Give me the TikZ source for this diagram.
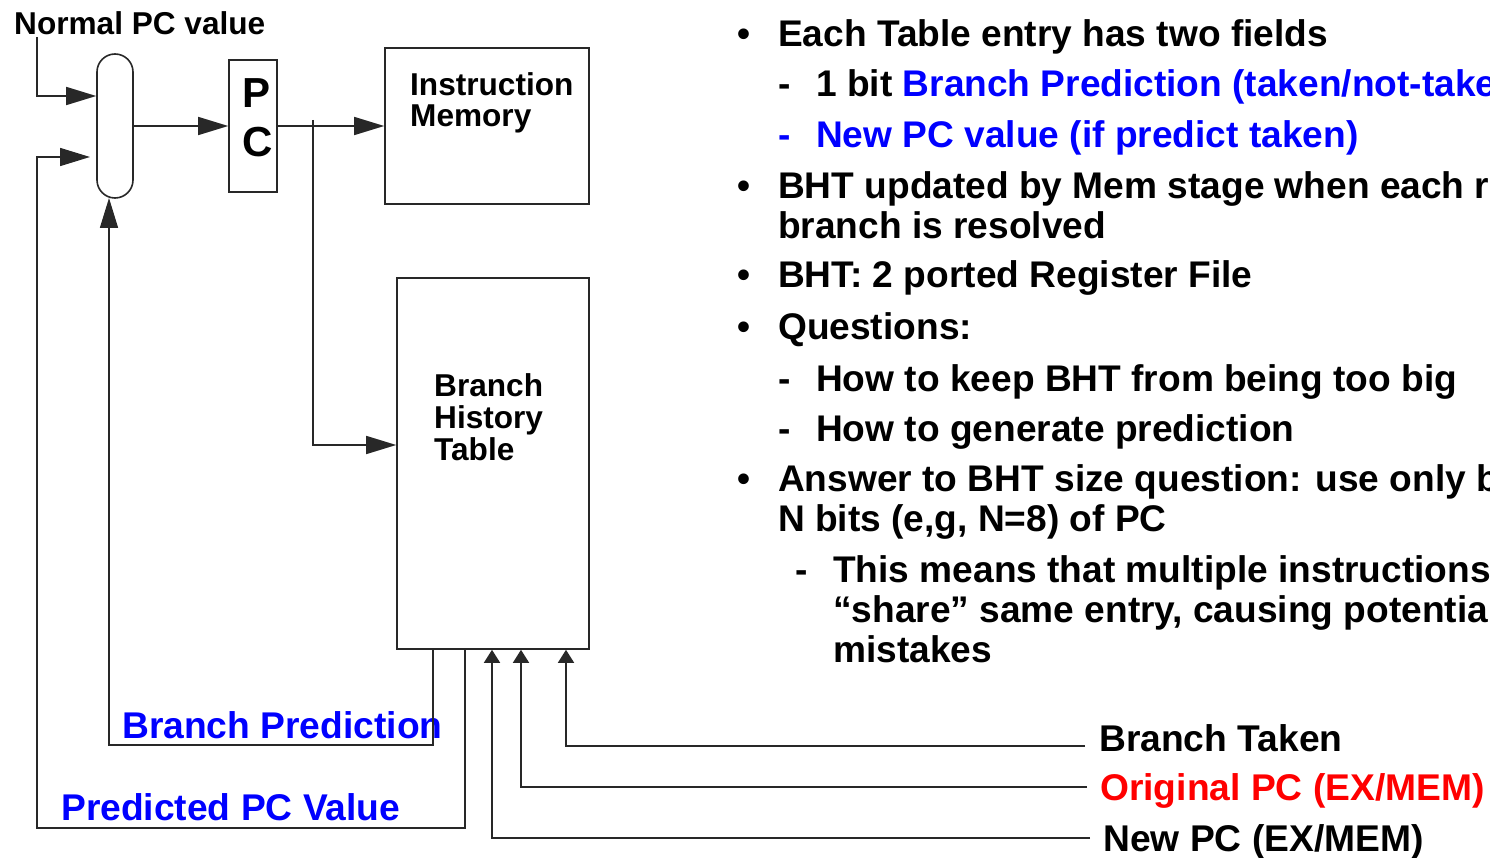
\documentclass[tikz,border=0pt]{standalone}
\usepackage{fontspec}
\setmainfont{Liberation Sans}
\usetikzlibrary{arrows.meta}
\definecolor{pblue}{RGB}{0,0,255}
\definecolor{pred}{RGB}{255,0,0}
\definecolor{lne}{RGB}{40,40,40}
\tikzset{
  wire/.style={draw=lne, line width=1.6pt},
  bigarrow/.style={wire, -{Triangle[length=30pt,width=18pt]}},
  smallarrow/.style={wire, -{Triangle[length=13pt,width=16pt]}},
  blockbox/.style={draw=lne, line width=1.6pt, inner sep=0pt},
  dtxt/.style={inner sep=0pt, anchor=base west, font=\fontsize{31.6}{32}\selectfont\bfseries},
  ltxt/.style={inner sep=0pt, anchor=base west, font=\fontsize{37.2}{40}\selectfont\bfseries},
  rtxt/.style={inner sep=0pt, anchor=base west, font=\fontsize{37.1}{40}\selectfont\bfseries},
}
\begin{document}
\begin{tikzpicture}[x=1pt,y=-1pt]
\useasboundingbox (0,0) rectangle (1490,858);
\clip (0,0) rectangle (1490,858);

% ---- blocks ----
\node[blockbox, rounded corners=18pt, minimum width=36pt, minimum height=144pt] (mux) at (115,126) {};
\node[blockbox, minimum width=48pt, minimum height=132pt] (pc) at (253,126) {};
\node[inner sep=0pt, anchor=base] (pcP) at (257,108) {\fontsize{42}{42}\selectfont\bfseries P};
\node[inner sep=0pt, anchor=base] (pcC) at (258,157) {\fontsize{42}{42}\selectfont\bfseries C};
\node[blockbox, minimum width=204pt, minimum height=156pt] (im) at (487,126) {};
\node[dtxt] (im1) at (410,96) {Instruction};
\node[dtxt] (im2) at (410,127) {Memory};
\node[blockbox, minimum width=192pt, minimum height=371pt] (bht) at (493,463.5) {};
\node[dtxt] (bh1) at (434,396) {Branch};
\node[dtxt] (bh2) at (434,428) {History};
\node[dtxt] (bh3) at (434,460) {Table};

% ---- labels left ----
\node[dtxt] (npc) at (14,35) {Normal PC value};
\node[ltxt, text=pblue] (bpl) at (122,738) {Branch Prediction};
\node[ltxt, text=pblue] (ppl) at (61,820) {Predicted PC Value};

% ---- labels bottom right ----
\node[ltxt] (btl) at (1099,751) {Branch Taken};
\node[ltxt, text=pred] (opl) at (1100,800) {Original PC (EX/MEM)};
\node[ltxt] (npl) at (1103,851) {New PC (EX/MEM)};

% ---- coordinates ----
\coordinate (npcEnd) at (37,37);
\coordinate (in2tip) at (90,157);
\coordinate (branchTop) at (313,120);
\coordinate (bpOut) at (433,649);
\coordinate (ppOut) at (465,649);
\coordinate (btEnd) at (1085,746);
\coordinate (opEnd) at (1087,787);
\coordinate (npEnd) at (1090,838);

% ---- connectors ----
\draw[bigarrow] (npcEnd) |- (mux.west |- 0,96);
\draw[bigarrow] (ppOut) -- (465,828) -- (37,828) -- (37,157) -- (in2tip);
\draw[bigarrow] (bpOut) -- (433,745) -- (109,745) -- (109,198);
\draw[bigarrow] (mux.east) -- (pc.west);
\draw[bigarrow] (pc.east) -- (im.west);
\draw[bigarrow] (branchTop) |- (bht.west |- 0,445);
\draw[smallarrow] (btEnd) -| (bht.south -| 566,0);
\draw[smallarrow] (opEnd) -| (bht.south -| 521,0);
\draw[smallarrow] (npEnd) -| (bht.south -| 492,0);

% ---- bullet text ----
\node[rtxt] (b1) at (737,47) {•};
\node[rtxt] (t1) at (778,47) {Each Table entry has two fields};
\node[rtxt] (d2) at (778,97) {-};
\node[rtxt] (t2) at (816,97) {1 bit \textcolor{pblue}{Branch Prediction (taken/not-taken)}};
\node[rtxt, text=pblue] (d3) at (778,148) {-};
\node[rtxt, text=pblue] (t3) at (816,148) {New PC value (if predict taken)};
\node[rtxt] (b4) at (737,199) {•};
\node[rtxt] (t4) at (778,199) {BHT updated by Mem stage when each real};
\node[rtxt] (t4b) at (778,239) {branch is resolved};
\node[rtxt] (b5) at (737,288) {•};
\node[rtxt] (t5) at (778,288) {BHT: 2 ported Register File};
\node[rtxt] (b6) at (737,339) {•};
\node[rtxt] (t6) at (778,339) {Questions:};
\node[rtxt] (d7) at (778,391) {-};
\node[rtxt] (t7) at (816,391) {How to keep BHT from being too big};
\node[rtxt] (d8) at (778,441) {-};
\node[rtxt] (t8) at (816,441) {How to generate prediction};
\node[rtxt] (b9) at (737,491) {•};
\node[rtxt] (t9) at (778,491) {Answer to BHT size question: use only bottom};
\node[rtxt] (t9b) at (778,531) {N bits (e,g, N=8) of PC};
\node[rtxt] (d10) at (795,582) {-};
\node[rtxt] (t10) at (833,582) {This means that multiple instructions will};
\node[rtxt] (t10b) at (833,622) {“share” same entry, causing potential};
\node[rtxt] (t10c) at (833,662) {mistakes};
\end{tikzpicture}
\end{document}
